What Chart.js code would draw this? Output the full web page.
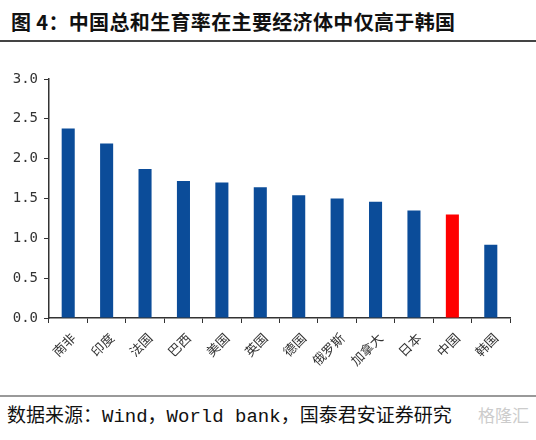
<!DOCTYPE html>
<html lang="zh">
<head>
  <meta charset="UTF-8">
  <title>中国总和生育率</title>
  <script src="https://cdn.jsdelivr.net/npm/chart.js"></script>
  <style>
    body { margin: 0; background: #fff; width: 536px; height: 440px; position: relative; overflow: hidden; }
    .title { position: absolute; left: 11px; top: 7px; font: bold 20px "Noto Sans CJK SC", sans-serif; color: #111; white-space: nowrap; letter-spacing: 0.35px; }
    .line-top { position: absolute; left: 0; top: 40px; width: 536px; height: 2px; background: #444; }
    .line-bottom { position: absolute; left: 0; top: 395px; width: 536px; height: 2px; background: #999; }
    .source { position: absolute; left: 7px; top: 400px; font: 19px "Liberation Mono", "Noto Sans CJK SC", monospace; color: #111; white-space: nowrap; }
    .mark { position: absolute; left: 478px; top: 402px; font: 17px "Noto Sans CJK SC", sans-serif; color: #ccc; }
    #wrap { position: absolute; left: 0; top: 0; width: 536px; height: 390px; }
  </style>
</head>
<body>
  <div class="title">图 4：中国总和生育率在主要经济体中仅高于韩国</div>
  <div class="line-top"></div>
  <div id="wrap"><canvas id="fertChart"></canvas></div>
  <div class="line-bottom"></div>
  <div class="source">数据来源：Wind，World bank，国泰君安证券研究</div>
  <div class="mark">格隆汇</div>

  <script>
    const countries = ['南非', '印度', '法国', '巴西', '美国', '英国', '德国', '俄罗斯', '加拿大', '日本', '中国', '韩国'];
    const fertility = [2.38, 2.19, 1.87, 1.72, 1.70, 1.64, 1.54, 1.50, 1.46, 1.35, 1.30, 0.92];
    const yTicks = [0, 0.5, 1.0, 1.5, 2.0, 2.5, 3.0];

    const BLUE = '#0b4c99';
    const RED = '#ff0000';

    new Chart(document.getElementById('fertChart'), {
      type: 'bar',
      data: {
        labels: countries,
        datasets: [{
          data: fertility,
          backgroundColor: countries.map(c => c === '中国' ? RED : BLUE),
          categoryPercentage: 1,
          barPercentage: 0.34
        }]
      },
      options: {
        animation: false,
        responsive: true,
        maintainAspectRatio: false,
        layout: { padding: { top: 79, right: 26, left: 0, bottom: 0 } },
        plugins: { legend: { display: false }, tooltip: { enabled: false } },
        scales: {
          x: {
            afterFit: s => { s.height = 72; },
            grid: { drawOnChartArea: false, tickLength: 5, color: '#333', offset: true },
            border: { color: '#333', width: 1.5 },
            ticks: {
              minRotation: 45, maxRotation: 45, padding: 7, labelOffset: 5,
              color: '#333',
              font: { family: '"Noto Sans CJK SC", sans-serif', size: 13 }
            }
          },
          y: {
            min: 0, max: 3,
            afterFit: s => { s.width = 49; },
            afterBuildTicks: s => { s.ticks = yTicks.map(v => ({ value: v })); },
            grid: { drawOnChartArea: false, tickLength: 5, color: '#333' },
            border: { color: '#333', width: 1.5 },
            ticks: {
              padding: 6,
              color: '#333',
              font: { family: '"DejaVu Sans Mono", monospace', size: 14 },
              callback: v => v.toFixed(1)
            }
          }
        }
      }
    });
  </script>
</body>
</html>
